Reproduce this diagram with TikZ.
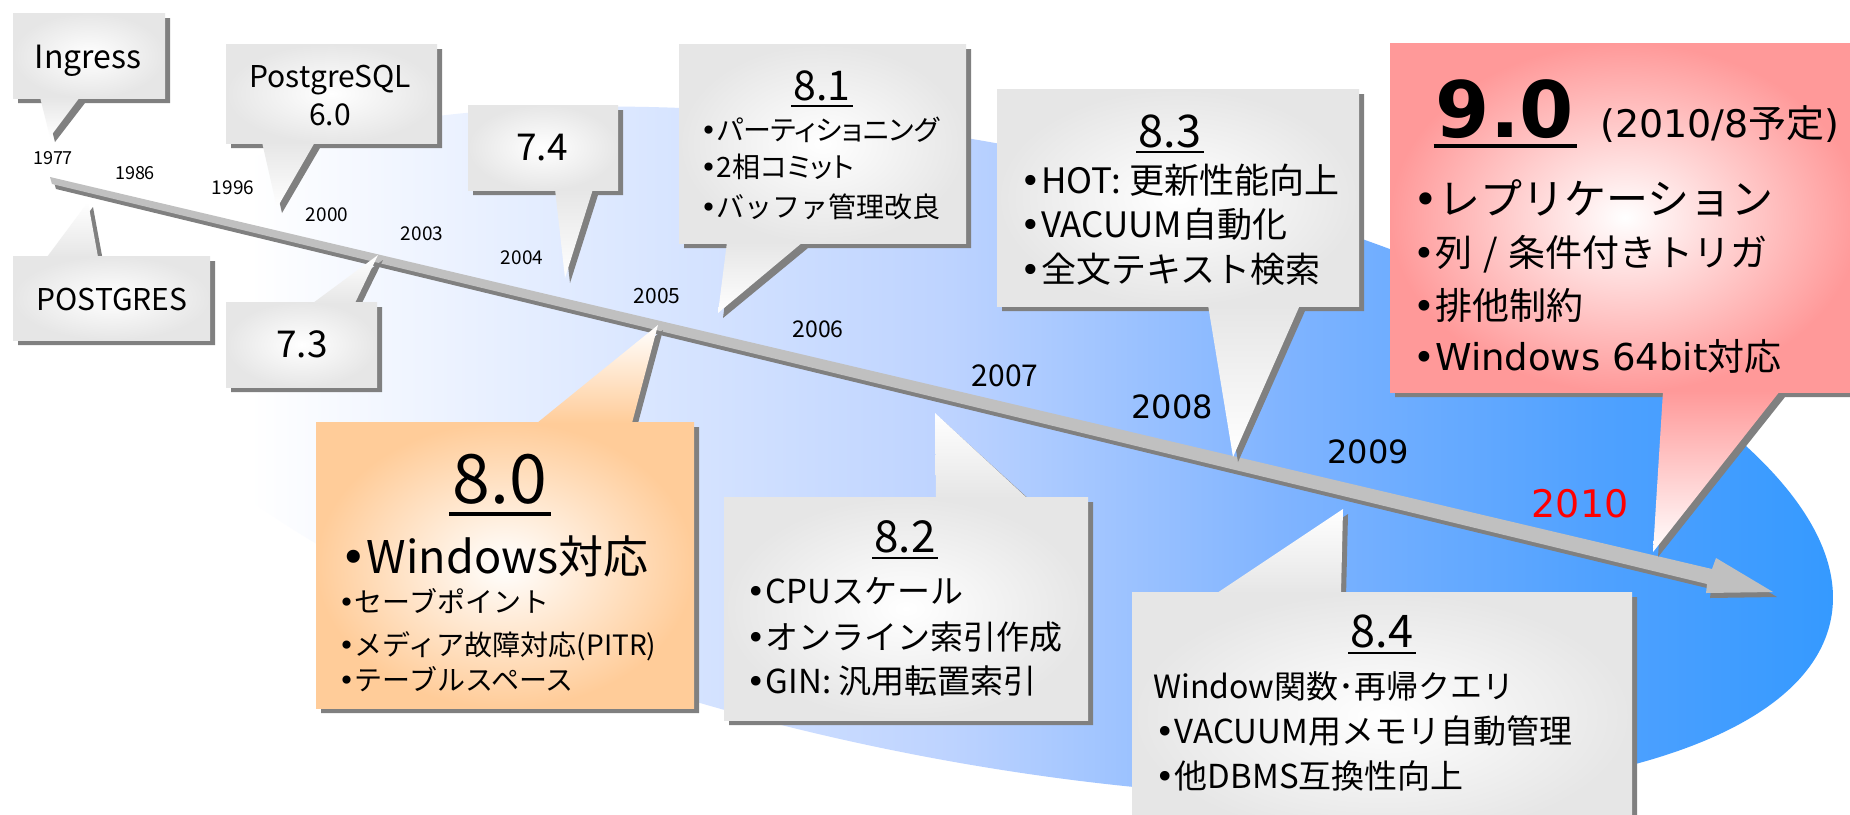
\documentclass[tikz,border=0pt]{standalone}
\usepackage{fontspec}
\setmainfont{Noto Sans CJK JP}
\newfontfamily\jpp[RawFeature={+palt}]{Noto Sans CJK JP}
\newfontfamily\dv{DejaVu Sans}
\definecolor{shd}{HTML}{808080}
\definecolor{boxg}{HTML}{E6E6E6}
\definecolor{boxo}{HTML}{FFCC99}
\definecolor{boxp}{HTML}{FF9999}
\definecolor{arr}{HTML}{C0C0C0}
\definecolor{e1}{HTML}{EAF1FF}
\definecolor{e2}{HTML}{BDD3FF}
\definecolor{e3}{HTML}{80B4FF}
\definecolor{e4}{HTML}{4FA1FF}
\definecolor{e5}{HTML}{3399FF}
\definecolor{redtxt}{HTML}{FF0000}
\pgfdeclarehorizontalshading{ellsh}{100bp}{color(0bp)=(white); color(31.75bp)=(white); color(37.7bp)=(e1); color(50.7bp)=(e2); color(59.6bp)=(e3); color(68.25bp)=(e4); color(75bp)=(e5); color(100bp)=(e5)}
\newcommand\fz[1]{\fontsize{#1}{#1}\selectfont}
\newcommand\bul{{\dv •}}
\tikzset{
  shadowfill/.style={fill=shd, shift={(5,5)}},
  gbox/.style={inner color=white, outer color=boxg},
  obox/.style={inner color=white, outer color=boxo},
  pbox/.style={inner color=white, outer color=boxp},
  lbl/.style={inner sep=0pt, anchor=base},
  line/.style={inner sep=0pt, anchor=base west},
  yr/.style={inner sep=0pt, anchor=center},
  ul/.style={line width=1.4pt},
}
\begin{document}
\begin{tikzpicture}[x=0.5pt,y=-0.5pt]
\useasboundingbox (0,0) rectangle (1850,814);
\clip (0,0) rectangle (1850,814);
\fill[white] (0,0) rectangle (1850,814);
% background ellipse
\begin{scope}
  \clip (972,452) ellipse [x radius=437.5pt, y radius=154pt, rotate=-11];
  \shade[shading=ellsh] (0,0) rectangle (1850,814);
\end{scope}
% timeline arrow
\def\arrowpath{(50,177) -- (1712,569) -- (1716,558) -- (1773,592) -- (1706,593) -- (1707,584) -- (52,184) -- cycle}
\fill[shd, shift={(4,5)}] \arrowpath;
\fill[arr] \arrowpath;

% ---- Ingress
\fill[shadowfill] (13,13) -- (165,13) -- (165,98) -- (80,98) -- (50,137) -- (40,98) -- (13,98) -- cycle;
\shade[gbox] (13,13) rectangle (165,98);
\shade[top color=boxg, bottom color=white] (40,97) -- (80,97) -- (50,137) -- cycle;
% ---- PostgreSQL 6.0
\fill[shadowfill] (226,44) -- (437,44) -- (437,143) -- (315,143) -- (277,208) -- (262,143) -- (226,143) -- cycle;
\shade[gbox] (226,44) rectangle (437,143);
\shade[top color=boxg, bottom color=white] (262,142) -- (315,142) -- (277,208) -- cycle;
% ---- POSTGRES
\fill[shadowfill] (13,256) -- (47,256) -- (88,202) -- (98,256) -- (210,256) -- (210,340) -- (13,340) -- cycle;
\shade[gbox] (13,256) rectangle (210,340);
\shade[top color=white, bottom color=boxg] (47,257) -- (88,202) -- (98,257) -- cycle;
% ---- 7.3
\fill[shadowfill] (226,302) -- (313,302) -- (378,255) -- (355,302) -- (377,302) -- (377,387) -- (226,387) -- cycle;
\shade[gbox] (226,302) rectangle (377,387);
\shade[top color=white, bottom color=boxg] (313,303) -- (378,255) -- (355,303) -- cycle;
% ---- 7.4
\fill[shadowfill] (468,105) -- (618,105) -- (618,190) -- (593,190) -- (565,278) -- (555,190) -- (468,190) -- cycle;
\shade[gbox] (468,105) rectangle (618,190);
\shade[top color=boxg, bottom color=white] (555,189) -- (593,189) -- (565,278) -- cycle;
% ---- 8.1
\fill[shadowfill] (679,44) -- (966,44) -- (966,243) -- (803,243) -- (718,313) -- (727,243) -- (679,243) -- cycle;
\shade[gbox] (679,44) rectangle (966,243);
\shade[top color=boxg, bottom color=white] (727,242) -- (803,242) -- (718,313) -- cycle;
% ---- 8.3
\fill[shadowfill] (997,89) -- (1359,89) -- (1359,306) -- (1300,306) -- (1233,457) -- (1208,306) -- (997,306) -- cycle;
\shade[gbox] (997,89) rectangle (1359,306);
\shade[top color=boxg, bottom color=white] (1208,305) -- (1300,305) -- (1233,457) -- cycle;
% ---- 9.0
\fill[shadowfill] (1390,43) -- (1860,43) -- (1860,392) -- (1780,392) -- (1653,552) -- (1663,392) -- (1390,392) -- cycle;
\shade[pbox] (1390,43) rectangle (1860,392);
\shade[top color=boxp, bottom color=white] (1663,391) -- (1780,391) -- (1653,552) -- cycle;
% ---- 8.0
\fill[shadowfill] (316,422) -- (537,422) -- (658,325) -- (632,422) -- (694,422) -- (694,708) -- (316,708) -- cycle;
\shade[obox] (316,422) rectangle (694,708);
\shade[top color=white, bottom color=boxo] (537,423) -- (658,325) -- (632,423) -- cycle;
% ---- 8.2
\fill[shadowfill] (724,497) -- (936,497) -- (935,413) -- (1027,497) -- (1088,497) -- (1088,720) -- (724,720) -- cycle;
\shade[gbox] (724,497) rectangle (1088,720);
\shade[top color=white, bottom color=boxg] (936,498) -- (935,413) -- (1027,498) -- cycle;
% ---- 8.4
\fill[shadowfill] (1132,592) -- (1217,592) -- (1343,509) -- (1341,592) -- (1632,592) -- (1632,840) -- (1132,840) -- cycle;
\shade[gbox] (1132,592) rectangle (1632,840);
\shade[top color=white, bottom color=boxg] (1217,593) -- (1343,509) -- (1341,593) -- cycle;

% ---- year labels
\node[yr] (y1977) at (53,158) {\fz{9pt}1977};
\node[yr] (y1986) at (135,173) {\fz{9pt}1986};
\node[yr] (y1996) at (233,188) {\fz{9.5pt}1996};
\node[yr] (y2000) at (327,215) {\fz{9.5pt}2000};
\node[yr] (y2003) at (422,234) {\fz{9.5pt}2003};
\node[yr] (y2004) at (522,258) {\fz{9.5pt}2004};
\node[yr] (y2005) at (657,296) {\fz{10.5pt}2005};
\node[yr] (y2006) at (818,329) {\fz{11.5pt}2006};
\node[yr] (y2007) at (1005,376) {\fz{15pt}2007};
\node[yr] (y2008) at (1172,407) {\dv\fz{16pt}2008};
\node[yr] (y2009) at (1368,452) {\dv\fz{16pt}2009};
\node[yr, text=redtxt] (y2010) at (1580,504) {\dv\fz{19pt}2010};

% ---- callout texts
\node[lbl] (ingress) at (88,68) {\fz{16pt}Ingress};
\node[lbl] (pg1) at (330,87) {\fz{15pt}PostgreSQL};
\node[lbl] (pg2) at (330,125) {\fz{15pt}6.0};
\node[lbl] (postgres) at (112,310) {\fz{15pt}POSTGRES};
\node[lbl] (v73) at (302,357) {\fz{18.5pt}7.3};
\node[lbl] (v74) at (542,160) {\fz{18.5pt}7.4};

% 8.1
\node[lbl] (t81) at (822,100) {\fz{20.5pt}8.1};
\draw[ul, line width=1.3pt] ([shift={(-2,6)}]t81.base west) -- ([shift={(2,6)}]t81.base east);
\node[line] (l811) at (700,140) {\jpp\fz{14pt}\bul パーティショニング};
\node[line] (l812) at (700,177) {\jpp\fz{14pt}\bul 2相コミット};
\node[line] (l813) at (700,217) {\fz{14pt}\bul バッファ管理改良};

% 8.3
\node[lbl] (t83) at (1170,147) {\fz{22.5pt}8.3};
\draw[ul] ([shift={(-2,5)}]t83.base west) -- ([shift={(2,5)}]t83.base east);
\node[line] (l831) at (1020,193) {\fz{17.5pt}\bul HOT: 更新性能向上};
\node[line] (l832) at (1020,237) {\fz{17.5pt}\bul VACUUM自動化};
\node[line] (l833) at (1020,282) {\fz{17.5pt}\bul 全文テキスト検索};

% 8.2
\node[lbl] (t82) at (905,552) {\fz{22pt}8.2};
\draw[ul] ([shift={(-2,6)}]t82.base west) -- ([shift={(2,6)}]t82.base east);
\node[line] (l821) at (746,603) {\fz{16.5pt}\bul CPUスケール};
\node[line] (l822) at (746,649) {\fz{16.5pt}\bul オンライン索引作成};
\node[line] (l823) at (746,693) {\fz{16.5pt}\bul GIN: 汎用転置索引};

% 8.4
\node[lbl] (t84) at (1382,647) {\fz{22.5pt}8.4};
\draw[ul] ([shift={(-2,6)}]t84.base west) -- ([shift={(2,6)}]t84.base east);
\node[line] (l841) at (1153,698) {\fz{16pt}Window関数･再帰クエリ};
\node[line] (l842) at (1155,743) {\fz{16.5pt}\bul VACUUM用メモリ自動管理};
\node[line] (l843) at (1155,788) {\fz{16.5pt}\bul 他DBMS互換性向上};

% 8.0
\node[lbl] (t80) at (500,503) {\fz{34pt}8.0};
\draw[ul, line width=2pt] ([shift={(-3,11)}]t80.base west) -- ([shift={(3,11)}]t80.base east);
\node[line] (l801) at (340,573) {\fz{22.5pt}\bul Windows対応};
\node[line] (l802) at (338,612) {\fz{14pt}\bul セーブポイント};
\node[line] (l803) at (338,655) {\fz{14pt}\bul メディア故障対応(PITR)};
\node[line] (l804) at (338,690) {\fz{14pt}\bul テーブルスペース};

% 9.0
\node[lbl] (t90) at (1505,137) {\dv\bfseries\fz{39pt}9.0};
\draw[ul, line width=2pt] ([shift={(-2,9)}]t90.base west) -- ([shift={(2,9)}]t90.base east);
\node[line] (d90) at (1600,137) {\fz{19pt}{\dv (2010/8}予定{\dv )}};
\node[line] (l901) at (1413,214) {\fz{21pt}\bul レプリケーション};
\node[line] (l902) at (1413,266) {\fz{18.5pt}\bul 列\hspace{0.3em}/\hspace{0.3em}条件付きトリガ};
\node[line] (l903) at (1413,319) {\fz{18.5pt}\bul 排他制約};
\node[line] (l904) at (1413,370) {\fz{18.5pt}\bul {\dv Windows 64bit}対応};
\end{tikzpicture}
\end{document}
